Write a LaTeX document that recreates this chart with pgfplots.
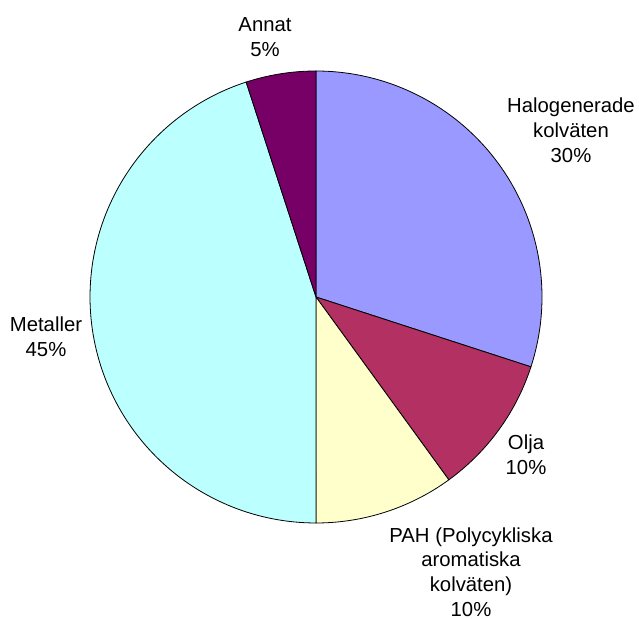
\documentclass[border=0pt]{standalone}
\usepackage{pgfplots}
\pgfplotsset{compat=1.18}
\usepackage{fontspec}
\setmainfont{Liberation Sans}
\definecolor{cHalo}{RGB}{153,153,255}
\definecolor{cOlja}{RGB}{178,48,98}
\definecolor{cPAH}{RGB}{255,255,204}
\definecolor{cMet}{RGB}{187,255,255}
\definecolor{cAnn}{RGB}{118,0,102}
\tikzset{lab/.style={anchor=base, inner sep=0pt, font=\fontsize{20.3bp}{25bp}\selectfont}}
% shares (percent)
\def\pHalo{30}
\def\pOlja{10}
\def\pPAH{10}
\def\pMet{45}
\def\pAnn{5}
\pgfmathsetmacro{\aA}{90}
\pgfmathsetmacro{\aB}{\aA-3.6*\pHalo}
\pgfmathsetmacro{\aC}{\aB-3.6*\pOlja}
\pgfmathsetmacro{\aD}{\aC-3.6*\pPAH}
\pgfmathsetmacro{\aE}{\aD-3.6*\pMet}
\pgfmathsetmacro{\aF}{\aE-3.6*\pAnn}
\def\R{226}
\begin{document}
\begin{tikzpicture}
\useasboundingbox (0,0) rectangle (639bp,619bp);
\begin{axis}[at={(0,0)}, anchor=south west, width=639bp, height=619bp,
  scale only axis, xmin=-316, xmax=323, ymin=-322, ymax=297,
  hide axis, clip=false,
  every axis plot/.append style={draw=black, line width=0.8bp, samples=120}]
\addplot[fill=cHalo, domain=\aB:\aA] ({\R*cos(x)},{\R*sin(x)}) -- (axis cs:0,0) -- cycle;
\addplot[fill=cOlja, domain=\aC:\aB] ({\R*cos(x)},{\R*sin(x)}) -- (axis cs:0,0) -- cycle;
\addplot[fill=cPAH, domain=\aD:\aC] ({\R*cos(x)},{\R*sin(x)}) -- (axis cs:0,0) -- cycle;
\addplot[fill=cMet, domain=\aE:\aD] ({\R*cos(x)},{\R*sin(x)}) -- (axis cs:0,0) -- cycle;
\addplot[fill=cAnn, domain=\aF:\aE] ({\R*cos(x)},{\R*sin(x)}) -- (axis cs:0,0) -- cycle;
% labels
\node[lab] at (axis cs:-51,265) {Annat};
\node[lab] at (axis cs:-51,240) {5\%};
\node[lab] at (axis cs:255,184) {Halogenerade};
\node[lab] at (axis cs:255,159) {kolväten};
\node[lab] at (axis cs:255,134) {30\%};
\node[lab] at (axis cs:210,-153) {Olja};
\node[lab] at (axis cs:210,-178) {10\%};
\node[lab] at (axis cs:155,-246) {PAH (Polycykliska};
\node[lab] at (axis cs:155,-270) {aromatiska};
\node[lab] at (axis cs:155,-295) {kolväten)};
\node[lab] at (axis cs:155,-320) {10\%};
\node[lab] at (axis cs:-270,-35) {Metaller};
\node[lab] at (axis cs:-270,-60) {45\%};
\end{axis}
\end{tikzpicture}
\end{document}
